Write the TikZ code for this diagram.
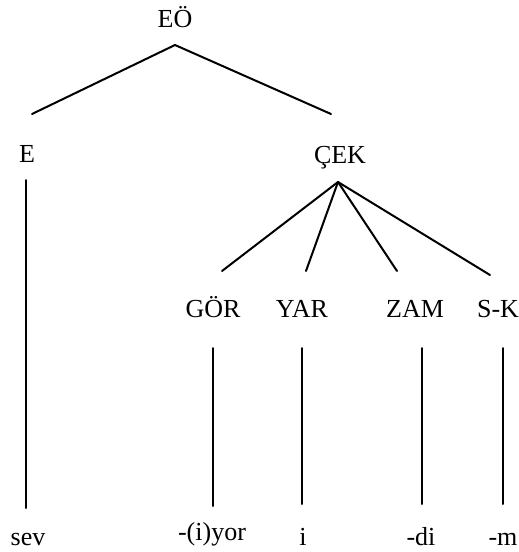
\documentclass[tikz,border=0pt]{standalone}
\usepackage{fontspec}
\setmainfont{Liberation Serif}
\begin{document}
\begin{tikzpicture}[x=1pt,y=-1pt,
  lab/.style={anchor=base,inner sep=0pt,font=\fontsize{26}{30}\selectfont},
  edge/.style={line width=2pt,line cap=round}]
\useasboundingbox (0,0) rectangle (519,552);
% labels
\node[lab] (EO)  at (175,27)  {EÖ};
\node[lab] (E)   at (27,162)  {E};
\node[lab] (CEK) at (340,163) {ÇEK};
\node[lab] (GOR) at (213,317) {GÖR};
\node[lab] (YAR) at (302,317) {YAR};
\node[lab] (ZAM) at (415,317) {ZAM};
\node[lab] (SK)  at (498,317) {S-K};
\node[lab] (sev) at (28,545)  {sev};
\node[lab] (yor) at (212,540) {-(i)yor};
\node[lab] (i)   at (303,545) {i};
\node[lab] (di)  at (421,545) {-di};
\node[lab] (m)   at (503,545) {-m};
% attachment points
\coordinate (EOb) at (175,45);
\coordinate (Et) at (32,114);
\coordinate (CEKt) at (331,114);
\coordinate (Eb) at (26,180);
\coordinate (sevt) at (26,508);
\coordinate (CEKb) at (338,182);
\coordinate (GORt) at (222,271);
\coordinate (YARt) at (306,271);
\coordinate (ZAMt) at (397,271);
\coordinate (SKt) at (490,275);
\coordinate (GORb) at (213,348);
\coordinate (yort) at (213,506);
\coordinate (YARb) at (302,348);
\coordinate (it) at (302,504);
\coordinate (ZAMb) at (422,348);
\coordinate (dit) at (422,504);
\coordinate (SKb) at (503,348);
\coordinate (mt) at (503,504);
% connectors
\draw[edge] (Et) -- (EOb) -- (CEKt);
\draw[edge] (Eb) -- (sevt);
\draw[edge] (CEKb) -- (GORt);
\draw[edge] (CEKb) -- (YARt);
\draw[edge] (CEKb) -- (ZAMt);
\draw[edge] (CEKb) -- (SKt);
\draw[edge] (GORb) -- (yort);
\draw[edge] (YARb) -- (it);
\draw[edge] (ZAMb) -- (dit);
\draw[edge] (SKb) -- (mt);
\end{tikzpicture}
\end{document}
